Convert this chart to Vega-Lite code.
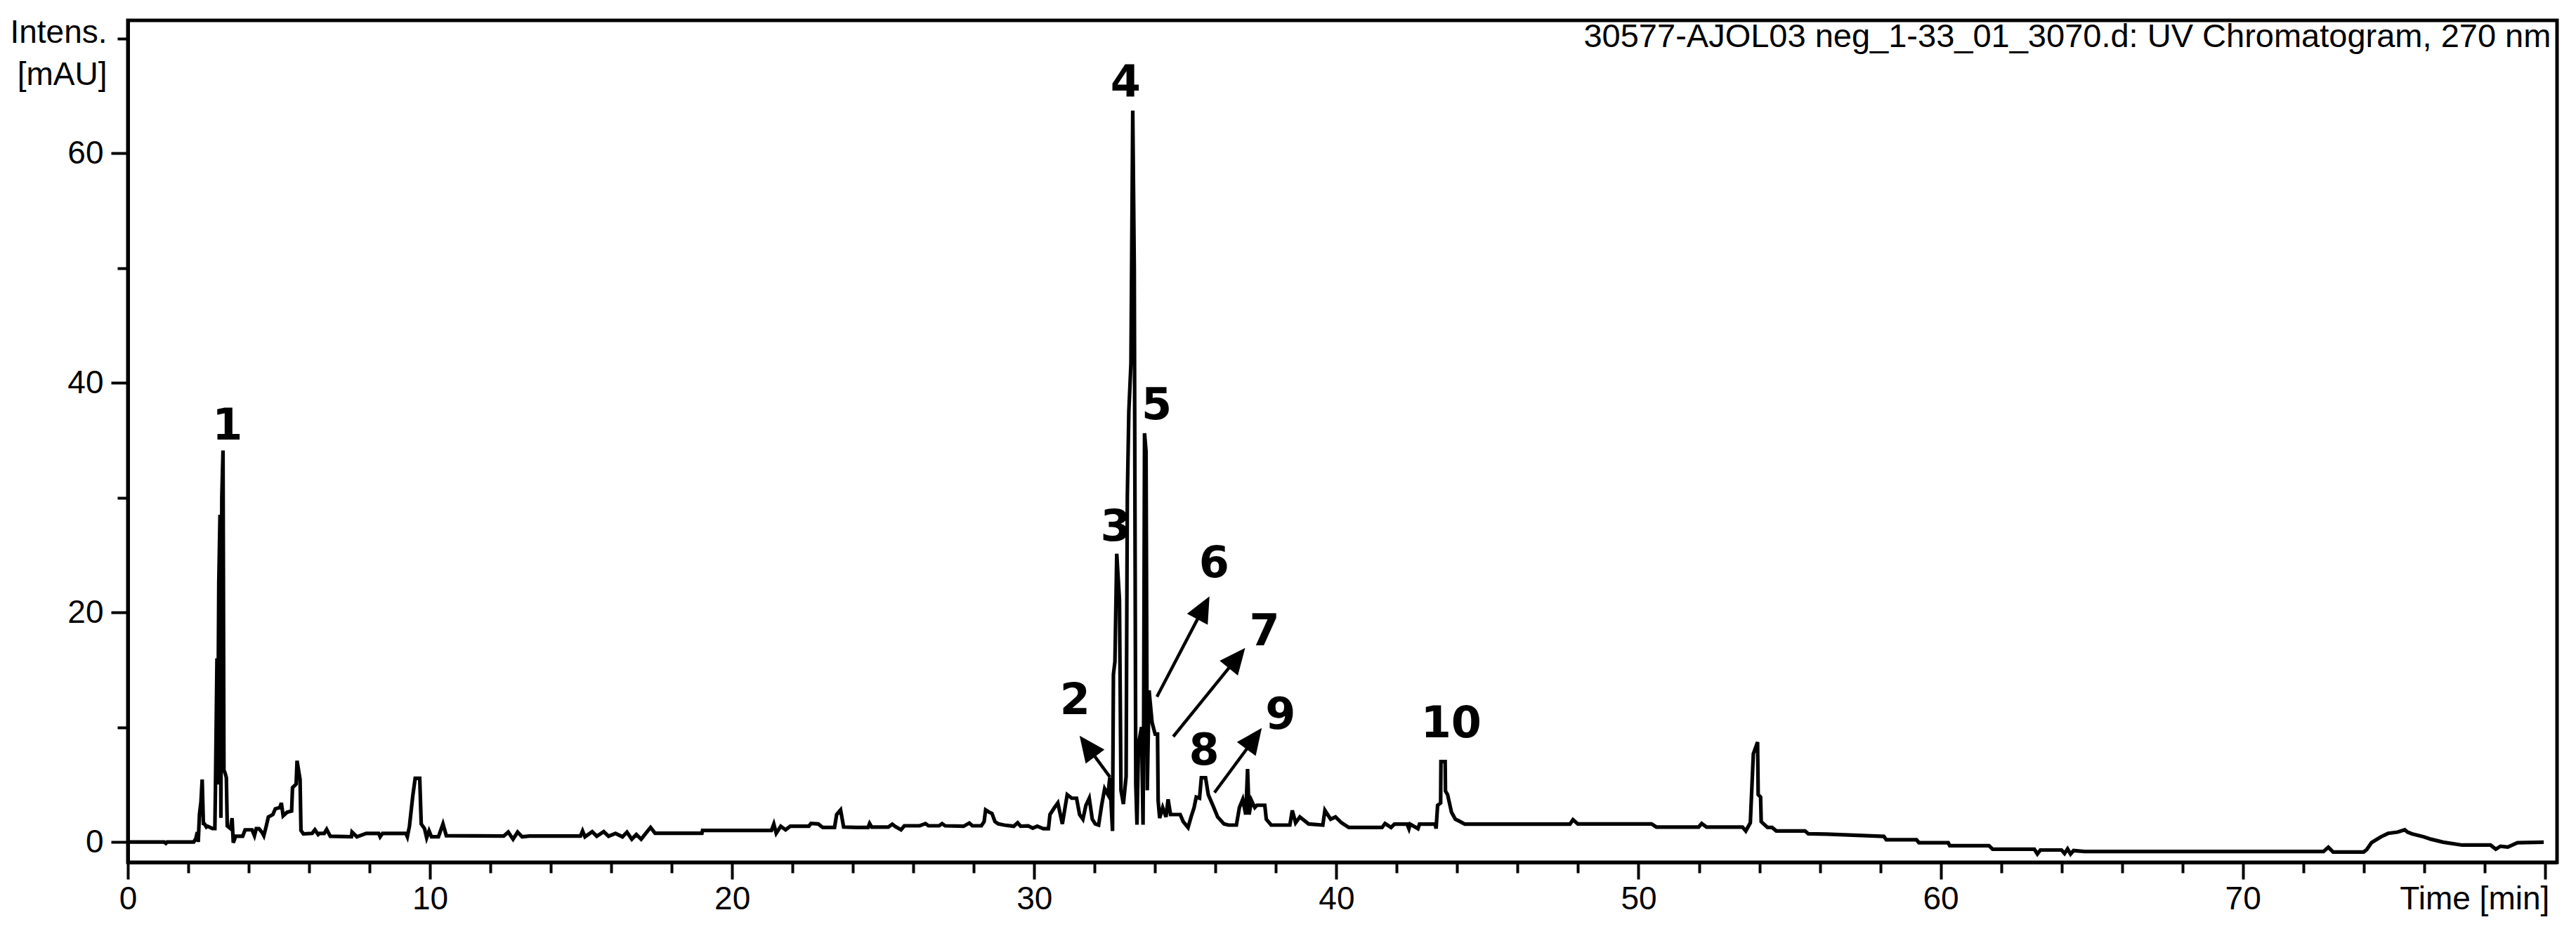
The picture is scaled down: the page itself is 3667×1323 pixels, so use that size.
{
  "$schema": "https://vega.github.io/schema/vega-lite/v6.json",
  "width": 3458,
  "height": 1199,
  "autosize": "none",
  "padding": {"left": 182, "top": 29, "right": 27, "bottom": 95},
  "background": "white",
  "config": {"view": {"stroke": "black", "strokeWidth": 5}, "font": "Liberation Sans"},
  "datasets": {
    "trace": [
      {"t":0,"v":0},{"t":1.2,"v":0},{"t":1.26,"v":-0.12},{"t":1.3,"v":0},{"t":2.18,"v":0},{"t":2.25,"v":0.3},{"t":2.3,"v":0.85},{"t":2.33,"v":0},{"t":2.37,"v":2.4},{"t":2.42,"v":3.5},{"t":2.46,"v":5.44},{"t":2.5,"v":1.6},{"t":2.54,"v":1.57},{"t":2.6,"v":1.3},{"t":2.64,"v":1.37},{"t":2.8,"v":1.17},{"t":2.88,"v":1.17},{"t":2.9,"v":4.8},{"t":2.95,"v":16.0},{"t":2.97,"v":5.0},{"t":3.01,"v":22.6},{"t":3.05,"v":28.5},{"t":3.08,"v":2.1},{"t":3.11,"v":30.0},{"t":3.15,"v":34.1},{"t":3.18,"v":6.26},{"t":3.22,"v":6.0},{"t":3.26,"v":5.6},{"t":3.29,"v":1.4},{"t":3.4,"v":1.16},{"t":3.45,"v":2.08},{"t":3.49,"v":-0.06},{"t":3.57,"v":0.5},{"t":3.8,"v":0.5},{"t":3.88,"v":1.06},{"t":4.11,"v":1.06},{"t":4.19,"v":0.55},{"t":4.25,"v":1.16},{"t":4.34,"v":1.16},{"t":4.45,"v":0.8},{"t":4.5,"v":0.55},{"t":4.57,"v":1.26},{"t":4.65,"v":2.18},{"t":4.8,"v":2.39},{"t":4.88,"v":2.89},{"t":5.03,"v":3.0},{"t":5.08,"v":3.4},{"t":5.14,"v":2.28},{"t":5.27,"v":2.59},{"t":5.42,"v":2.69},{"t":5.45,"v":4.73},{"t":5.57,"v":5.04},{"t":5.6,"v":7.08},{"t":5.7,"v":5.44},{"t":5.73,"v":1.0},{"t":5.81,"v":0.7},{"t":6.1,"v":0.75},{"t":6.19,"v":1.06},{"t":6.3,"v":0.65},{"t":6.35,"v":0.75},{"t":6.5,"v":0.75},{"t":6.58,"v":1.1},{"t":6.7,"v":0.5},{"t":7.4,"v":0.45},{"t":7.42,"v":0.86},{"t":7.58,"v":0.45},{"t":7.89,"v":0.75},{"t":8.3,"v":0.75},{"t":8.35,"v":0.45},{"t":8.43,"v":0.75},{"t":9.2,"v":0.75},{"t":9.25,"v":0.45},{"t":9.32,"v":1.37},{"t":9.43,"v":4.0},{"t":9.51,"v":5.55},{"t":9.66,"v":5.55},{"t":9.71,"v":1.57},{"t":9.82,"v":1.16},{"t":9.89,"v":0.36},{"t":9.97,"v":0.96},{"t":10.05,"v":0.45},{"t":10.28,"v":0.45},{"t":10.43,"v":1.57},{"t":10.54,"v":0.55},{"t":12.44,"v":0.51},{"t":12.59,"v":0.86},{"t":12.75,"v":0.24},{"t":12.9,"v":0.86},{"t":13.05,"v":0.45},{"t":13.29,"v":0.51},{"t":14.98,"v":0.51},{"t":15.05,"v":0.96},{"t":15.13,"v":0.45},{"t":15.37,"v":0.9},{"t":15.52,"v":0.5},{"t":15.75,"v":0.9},{"t":15.91,"v":0.5},{"t":16.14,"v":0.75},{"t":16.37,"v":0.45},{"t":16.52,"v":0.86},{"t":16.68,"v":0.24},{"t":16.83,"v":0.65},{"t":16.99,"v":0.24},{"t":17.14,"v":0.75},{"t":17.3,"v":1.26},{"t":17.45,"v":0.76},{"t":19.0,"v":0.76},{"t":19.02,"v":1.0},{"t":21.3,"v":1.0},{"t":21.38,"v":1.56},{"t":21.46,"v":0.76},{"t":21.61,"v":1.37},{"t":21.77,"v":1.06},{"t":21.92,"v":1.37},{"t":22.54,"v":1.37},{"t":22.61,"v":1.61},{"t":22.85,"v":1.57},{"t":23.0,"v":1.26},{"t":23.39,"v":1.26},{"t":23.46,"v":2.39},{"t":23.59,"v":2.79},{"t":23.69,"v":1.3},{"t":24.13,"v":1.26},
      {"t":24.5,"v":1.26},{"t":24.55,"v":1.61},{"t":24.62,"v":1.3},{"t":25.17,"v":1.3},{"t":25.3,"v":1.55},{"t":25.4,"v":1.35},{"t":25.59,"v":1.06},{"t":25.7,"v":1.41},{"t":26.21,"v":1.41},{"t":26.4,"v":1.6},{"t":26.5,"v":1.41},{"t":26.85,"v":1.41},{"t":26.95,"v":1.6},{"t":27.05,"v":1.41},{"t":27.66,"v":1.37},{"t":27.85,"v":1.65},{"t":27.95,"v":1.41},{"t":28.25,"v":1.41},{"t":28.34,"v":1.77},{"t":28.39,"v":2.79},{"t":28.5,"v":2.6},{"t":28.6,"v":2.49},{"t":28.7,"v":1.77},{"t":28.81,"v":1.57},{"t":29.01,"v":1.47},{"t":29.32,"v":1.37},{"t":29.45,"v":1.67},{"t":29.55,"v":1.37},{"t":29.8,"v":1.4},{"t":29.95,"v":1.2},{"t":30.1,"v":1.37},{"t":30.3,"v":1.16},{"t":30.47,"v":1.16},{"t":30.52,"v":2.39},{"t":30.67,"v":3.0},{"t":30.78,"v":3.4},{"t":30.93,"v":1.57},{"t":31.09,"v":4.12},{"t":31.24,"v":3.81},{"t":31.4,"v":3.81},{"t":31.5,"v":2.39},{"t":31.61,"v":1.98},{"t":31.71,"v":3.2},{"t":31.82,"v":3.81},{"t":31.92,"v":1.98},{"t":32.02,"v":1.57},{"t":32.13,"v":1.47},{"t":32.23,"v":3.2},{"t":32.33,"v":4.63},{"t":32.44,"v":4.12},{"t":32.5,"v":5.6},{"t":32.55,"v":3.0},{"t":32.59,"v":0.96},
      {"t":32.62,"v":14.6},{"t":32.67,"v":15.7},{"t":32.73,"v":25.1},{"t":32.82,"v":21.1},{"t":32.87,"v":4.5},{"t":32.95,"v":3.3},{"t":33.04,"v":5.7},{"t":33.08,"v":30.0},{"t":33.13,"v":37.5},{"t":33.2,"v":41.7},{"t":33.26,"v":63.7},{"t":33.31,"v":50.0},{"t":33.36,"v":5.0},{"t":33.4,"v":1.5},{"t":33.45,"v":8.5},{"t":33.55,"v":10.0},{"t":33.6,"v":1.5},{"t":33.62,"v":10.0},{"t":33.65,"v":35.6},{"t":33.7,"v":34.0},{"t":33.74,"v":4.5},{"t":33.8,"v":13.2},{"t":33.9,"v":10.4},{"t":34.0,"v":9.4},{"t":34.08,"v":9.4},{"t":34.1,"v":3.61},
      {"t":34.15,"v":2.08},{"t":34.25,"v":3.0},{"t":34.36,"v":2.18},{"t":34.43,"v":3.71},{"t":34.51,"v":2.39},{"t":34.83,"v":2.39},{"t":34.93,"v":1.77},{"t":35.09,"v":1.26},{"t":35.19,"v":2.18},{"t":35.29,"v":3.0},{"t":35.36,"v":3.91},{"t":35.47,"v":3.81},{"t":35.53,"v":5.6},{"t":35.67,"v":5.6},{"t":35.76,"v":4.12},{"t":35.91,"v":3.2},{"t":36.07,"v":2.18},{"t":36.28,"v":1.57},{"t":36.43,"v":1.47},{"t":36.69,"v":1.47},{"t":36.79,"v":3.0},{"t":36.9,"v":3.71},{"t":37.0,"v":2.39},{"t":37.06,"v":6.36},{"t":37.11,"v":2.39},{"t":37.19,"v":3.61},{"t":37.3,"v":3.0},{"t":37.37,"v":3.2},{"t":37.63,"v":3.2},{"t":37.68,"v":1.98},{"t":37.84,"v":1.47},{"t":38.46,"v":1.47},{"t":38.54,"v":2.75},{"t":38.65,"v":1.67},{"t":38.79,"v":2.18},{"t":39.08,"v":1.57},{"t":39.55,"v":1.47},{"t":39.62,"v":2.75},{"t":39.81,"v":1.98},{"t":39.97,"v":2.18},{"t":40.17,"v":1.67},{"t":40.41,"v":1.26},
      {"t":41.51,"v":1.26},{"t":41.61,"v":1.61},{"t":41.81,"v":1.26},{"t":41.92,"v":1.55},{"t":42.34,"v":1.55},{"t":42.4,"v":1.16},{"t":42.44,"v":1.55},{"t":42.7,"v":1.16},{"t":42.75,"v":1.55},{"t":43.27,"v":1.55},{"t":43.3,"v":1.16},{"t":43.35,"v":3.2},{"t":43.45,"v":3.4},{"t":43.46,"v":7.0},{"t":43.6,"v":7.0},{"t":43.61,"v":4.43},{"t":43.68,"v":4.12},{"t":43.81,"v":2.59},{"t":43.94,"v":1.98},{"t":44.1,"v":1.77},{"t":44.25,"v":1.55},{"t":47.73,"v":1.55},{"t":47.83,"v":1.94},{"t":47.99,"v":1.57},{"t":50.43,"v":1.57},{"t":50.59,"v":1.3},{"t":51.99,"v":1.3},{"t":52.09,"v":1.61},{"t":52.25,"v":1.3},{"t":53.44,"v":1.3},{"t":53.55,"v":0.96},{"t":53.7,"v":1.67},{"t":53.8,"v":7.68},{"t":53.94,"v":8.7},{"t":53.96,"v":4.12},{"t":54.04,"v":3.91},{"t":54.06,"v":1.77},{"t":54.27,"v":1.26},{"t":54.42,"v":1.26},{"t":54.56,"v":0.96},{"t":55.51,"v":0.96},{"t":55.62,"v":0.71},{"t":56.22,"v":0.68},
      {"t":58.12,"v":0.49},{"t":58.2,"v":0.19},{"t":59.2,"v":0.19},{"t":59.28,"v":-0.06},{"t":60.25,"v":-0.06},{"t":60.3,"v":-0.32},{"t":61.6,"v":-0.32},{"t":61.72,"v":-0.63},{"t":63.1,"v":-0.63},{"t":63.2,"v":-1.05},{"t":63.3,"v":-0.7},{"t":64.0,"v":-0.7},{"t":64.1,"v":-1.0},{"t":64.2,"v":-0.6},{"t":64.3,"v":-1.05},{"t":64.4,"v":-0.75},{"t":64.76,"v":-0.83},{"t":72.67,"v":-0.83},{"t":72.83,"v":-0.46},{"t":72.99,"v":-0.87},{"t":74.0,"v":-0.87},{"t":74.1,"v":-0.67},{"t":74.26,"v":-0.06},{"t":74.57,"v":0.45},{"t":74.81,"v":0.75},{"t":75.12,"v":0.86},{"t":75.36,"v":1.06},{"t":75.45,"v":0.86},{"t":75.6,"v":0.71},{"t":75.99,"v":0.45},{"t":76.23,"v":0.24},{"t":76.63,"v":-0.02},{"t":77.26,"v":-0.27},{"t":78.2,"v":-0.27},{"t":78.37,"v":-0.63},{"t":78.53,"v":-0.37},{"t":78.77,"v":-0.45},{"t":79.09,"v":-0.06},{"t":79.96,"v":-0.02}
    ],
    "labels": [
      {"label":"1","t":3.3,"v":36.2},{"label":"2","t":31.35,"v":12.3},{"label":"3","t":32.69,"v":27.4},{"label":"4","t":33.02,"v":66.1},{"label":"5","t":34.05,"v":38.0},{"label":"6","t":35.95,"v":24.2},{"label":"7","t":37.62,"v":18.3},{"label":"8","t":35.62,"v":7.9},{"label":"9","t":38.15,"v":11.0},{"label":"10","t":43.8,"v":10.3}
    ],
    "arrows": [
      {"id":"2","t0":32.51,"v0":5.64,"t1":31.72,"v1":8.47,"tt":31.5,"vt":9.25},
      {"id":"6","t0":34.06,"v0":12.65,"t1":35.62,"v1":20.5,"tt":35.8,"vt":21.4},
      {"id":"7","t0":34.6,"v0":9.18,"t1":36.75,"v1":16.16,"tt":36.98,"vt":16.9},
      {"id":"9","t0":35.965,"v0":4.3,"t1":37.32,"v1":9.12,"tt":37.53,"vt":9.92}
    ],
    "heading": [
      {"text":"30577-AJOL03 neg_1-33_01_3070.d: UV Chromatogram, 270 nm","t":80.2,"v":70.1}
    ]
  },
  "layer": [
    {
      "data": {"name": "trace"},
      "mark": {"type": "line", "color": "black", "strokeWidth": 5.2, "clip": true},
      "encoding": {
        "x": {"field": "t", "type": "quantitative",
          "scale": {"domain": [0, 80.4], "nice": false, "zero": false},
          "axis": {
            "values": [0,2,4,6,8,10,12,14,16,18,20,22,24,26,28,30,32,34,36,38,40,42,44,46,48,50,52,54,56,58,60,62,64,66,68,70,72,74,76,78,80],
            "tickSize": {"condition": {"test": "datum.value % 10 === 0", "value": 24}, "value": 15},
            "tickWidth": 4, "tickColor": "black",
            "domainColor": "black", "domainWidth": 5,
            "labelExpr": "datum.value === 80 ? 'Time [min]' : (datum.value % 10 === 0 ? datum.label : '')",
            "labelAlign": {"condition": {"test": "datum.value === 80", "value": "right"}, "value": "center"},
            "labelOffset": {"condition": {"test": "datum.value === 80", "value": 6}, "value": 0},
            "labelFont": "Liberation Sans", "labelFontSize": 46, "labelColor": "black", "labelLimit": 600,
            "labelPadding": 6, "labelOverlap": false, "labelFlush": false, "labelBound": false,
            "grid": false, "title": null, "format": "d"
          }
        },
        "y": {"field": "v", "type": "quantitative",
          "scale": {"domain": [-1.77, 71.56], "nice": false, "zero": false},
          "axis": {
            "values": [0,10,20,30,40,50,60,70],
            "tickSize": {"condition": {"test": "datum.value % 20 === 0", "value": 24}, "value": 15},
            "tickWidth": 4, "tickColor": "black",
            "domainColor": "black", "domainWidth": 5,
            "labelExpr": "datum.value % 20 === 0 ? datum.label : ''",
            "labelFont": "Liberation Sans", "labelFontSize": 46, "labelColor": "black",
            "labelPadding": 11, "labelOverlap": false, "labelFlush": false, "labelBound": false,
            "grid": false, "format": "d",
            "title": ["Intens.", "[mAU]"],
            "titleAngle": 0, "titleAlign": "right", "titleBaseline": "top",
            "titleX": -30, "titleY": -5, "titleFont": "Liberation Sans", "titleFontSize": 46,
            "titleFontWeight": "normal", "titleColor": "black", "titleLineHeight": 60
          }
        }
      }
    },
    {
      "data": {"name": "labels"},
      "mark": {"type": "text", "font": "DejaVu Sans", "fontWeight": "bold", "fontSize": 62, "align": "center", "baseline": "middle", "color": "black"},
      "encoding": {
        "x": {"field": "t", "type": "quantitative"},
        "y": {"field": "v", "type": "quantitative"},
        "text": {"field": "label"}
      }
    },
    {
      "data": {"name": "heading"},
      "mark": {"type": "text", "font": "Liberation Sans", "fontSize": 47, "align": "right", "baseline": "middle", "color": "black"},
      "encoding": {
        "x": {"field": "t", "type": "quantitative"},
        "y": {"field": "v", "type": "quantitative"},
        "text": {"field": "text"}
      }
    },
    {
      "data": {"name": "arrows"},
      "mark": {"type": "rule", "color": "black", "strokeWidth": 4.5},
      "encoding": {
        "x": {"field": "t0", "type": "quantitative"},
        "y": {"field": "v0", "type": "quantitative"},
        "x2": {"field": "t1"},
        "y2": {"field": "v1"}
      }
    },
    {
      "data": {"name": "arrows"},
      "transform": [{"filter": "datum.id === '2'"}],
      "mark": {"type": "point", "shape": "M0,0L-0.9,2L0.9,2Z", "filled": true, "color": "black", "opacity": 1, "size": 1369, "angle": 323.4},
      "encoding": {"x": {"field": "tt", "type": "quantitative"}, "y": {"field": "vt", "type": "quantitative"}}
    },
    {
      "data": {"name": "arrows"},
      "transform": [{"filter": "datum.id === '6'"}],
      "mark": {"type": "point", "shape": "M0,0L-0.9,2L0.9,2Z", "filled": true, "color": "black", "opacity": 1, "size": 1369, "angle": 27.8},
      "encoding": {"x": {"field": "tt", "type": "quantitative"}, "y": {"field": "vt", "type": "quantitative"}}
    },
    {
      "data": {"name": "arrows"},
      "transform": [{"filter": "datum.id === '7'"}],
      "mark": {"type": "point", "shape": "M0,0L-0.9,2L0.9,2Z", "filled": true, "color": "black", "opacity": 1, "size": 1369, "angle": 39.1},
      "encoding": {"x": {"field": "tt", "type": "quantitative"}, "y": {"field": "vt", "type": "quantitative"}}
    },
    {
      "data": {"name": "arrows"},
      "transform": [{"filter": "datum.id === '9'"}],
      "mark": {"type": "point", "shape": "M0,0L-0.9,2L0.9,2Z", "filled": true, "color": "black", "opacity": 1, "size": 1369, "angle": 36.5},
      "encoding": {"x": {"field": "tt", "type": "quantitative"}, "y": {"field": "vt", "type": "quantitative"}}
    },
    {
      "mark": {"type": "rule", "color": "black", "strokeWidth": 8},
      "encoding": {"y": {"datum": 71.56, "type": "quantitative"}}
    }
  ]
}
